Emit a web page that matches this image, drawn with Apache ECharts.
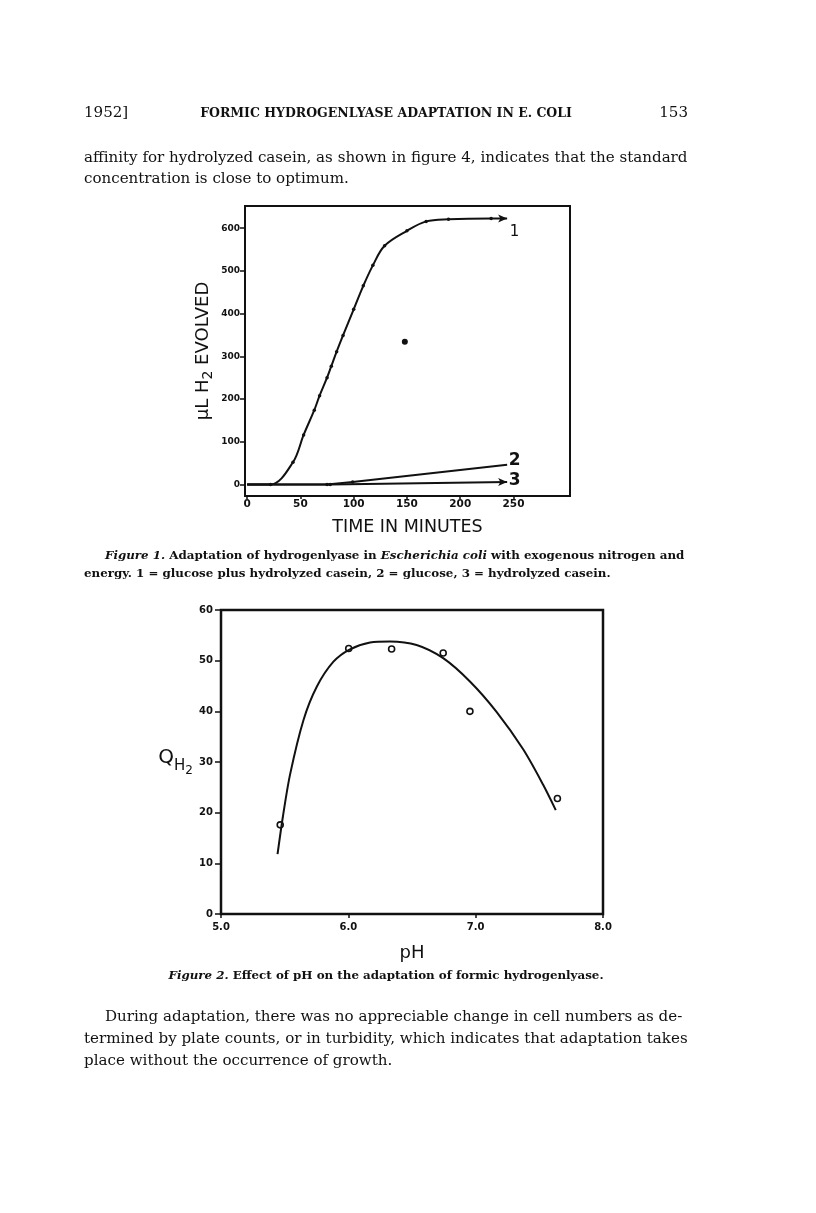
<!DOCTYPE html>
<html><head><meta charset="utf-8">
<script src="https://cdn.jsdelivr.net/npm/echarts@6/dist/echarts.min.js"></script>
<style>html,body{margin:0;padding:0;background:#fff}#c{width:816px;height:1213px}</style>
</head><body><div id="c"></div>
<script>
// ---------- Figure 1 data (time in minutes, µL H2 evolved) ----------
const fig1Curve1 = [[0,0],[22,0],[43,52],[53,116],[63,174],[68,208],[75,250],[79,277],[84,311],[90,349],[100,410],[109,465],[118,513],[129,559],[150,594],[168,616],[189,621],[229,623],[244,623]];
const fig1Curve2 = [[0,0],[75,0],[99,6],[244,46]];
const fig1Curve3 = [[0,0],[78,0],[244,6]];
const fig1Stray = [[148,334]];
const fig1CurveNames = ['1','2','3'];
const fig1CurveNamePos = [[251,591],[251,57],[251,8]];
const fig1XTicks = [0,50,100,150,200,250];
const fig1YTicks = [0,100,200,300,400,500,600];

// ---------- Figure 2 data (pH, QH2) ----------
const fig2Points = [[5.465,17.6],[6.003,52.4],[6.34,52.3],[6.745,51.5],[6.955,40.0],[7.642,22.8]];
const fig2Curve = [[5.444,11.8],[5.486,19.2],[5.543,27.6],[5.648,38.3],[5.753,44.9],[5.883,49.8],[6.009,52.2],[6.171,53.6],[6.327,53.8],[6.536,53.1],[6.745,50.5],[6.955,45.9],[7.164,39.9],[7.373,32.5],[7.53,25.5],[7.629,20.5]];
const fig2XTicks = [5,6,7,8];
const fig2YTicks = [0,10,20,30,40,50,60];

// ---------- Page text ----------
const headerLeft = '1952]';
const headerMid = 'FORMIC HYDROGENLYASE ADAPTATION IN E. COLI';
const headerRight = '153';
const para1 = ['affinity for hydrolyzed casein, as shown in figure 4, indicates that the standard', 'concentration is close to optimum.'];
const cap1Line1 = [['Figure 1.', true], [' Adaptation of hydrogenlyase in ', false], ['Escherichia coli', true], [' with exogenous nitrogen and', false]];
const cap1Line2 = [['energy. 1 = glucose plus hydrolyzed casein, 2 = glucose, 3 = hydrolyzed casein.', false]];
const cap2Line = [['Figure 2.', true], [' Effect of pH on the adaptation of formic hydrogenlyase.', false]];
const para2 = ['During adaptation, there was no appreciable change in cell numbers as de-', 'termined by plate counts, or in turbidity, which indicates that adaptation takes', 'place without the occurrence of growth.'];

const INK = '#111';
const SERIF = 'DejaVu Serif';
const SANS = 'DejaVu Sans';

const mctx = document.createElement('canvas').getContext('2d');
function measure(text, size, weight, italic, family) {
  mctx.font = (italic ? 'italic ' : '') + weight + ' ' + size + 'px "' + family + '"';
  return mctx.measureText(text).width;
}
function fitSize(segs, width, weight, family) {
  const base = 20;
  let w = 0;
  segs.forEach(s => { w += measure(s[0], base, weight, s[1], family); });
  return base * width / w;
}
const graphics = [];
function placeSegs(segs, x, y, size, weight, family, align) {
  let total = 0;
  const ws = segs.map(s => { const v = measure(s[0], size, weight, s[1], family); total += v; return v; });
  let cx = align === 'center' ? x - total / 2 : (align === 'right' ? x - total : x);
  segs.forEach((s, i) => {
    graphics.push({type: 'text', x: cx, y: y, silent: true, style: {
      text: s[0], fontSize: size, fontWeight: weight, fontStyle: s[1] ? 'italic' : 'normal',
      fontFamily: family, fill: INK, align: 'left', textAlign: 'left', verticalAlign: 'middle', textVerticalAlign: 'middle'}});
    cx += ws[i];
  });
}

// header
const bodySize = fitSize([[para1[0], false]], 604, 'normal', SERIF);
placeSegs([[headerLeft, false]], 84, 113, bodySize, 'normal', SERIF, 'left');
placeSegs([[headerRight, false]], 688, 113, bodySize, 'normal', SERIF, 'right');
const hSize = fitSize([[headerMid, false]], 372, 'bold', SERIF);
placeSegs([[headerMid, false]], 386, 114, hSize, 'bold', SERIF, 'center');
// paragraph 1
placeSegs([[para1[0], false]], 84, 158, bodySize, 'normal', SERIF, 'left');
placeSegs([[para1[1], false]], 84, 179, bodySize, 'normal', SERIF, 'left');
// caption 1
const capSize = fitSize(cap1Line1, 580, 'bold', SERIF);
placeSegs(cap1Line1, 105, 556, capSize, 'bold', SERIF, 'left');
placeSegs(cap1Line2, 84, 574, capSize, 'bold', SERIF, 'left');
// caption 2
placeSegs(cap2Line, 386, 976, capSize, 'bold', SERIF, 'center');
// paragraph 2
const body2Size = fitSize([[para2[1], false]], 604, 'normal', SERIF);
placeSegs([[para2[0], false]], 105, 1017, body2Size, 'normal', SERIF, 'left');
placeSegs([[para2[1], false]], 84, 1039, body2Size, 'normal', SERIF, 'left');
placeSegs([[para2[2], false]], 84, 1061, body2Size, 'normal', SERIF, 'left');

// ---------- Build series data ----------
function withEnds(arr, arrowEnd) {
  return arr.map((p, i) => {
    if (i === 0) return {value: p, symbol: 'none'};
    if (i === arr.length - 1 && arrowEnd) return {value: p, symbol: 'arrow', symbolSize: [6, 9], symbolRotate: -90};
    if (i === arr.length - 1) return {value: p, symbol: 'none'};
    return {value: p};
  });
}
const curveLabelData = fig1CurveNames.map((n, i) => (n === '1'
  ? {name: n, value: fig1CurveNamePos[i], label: {fontWeight: 'normal', fontSize: 15}}
  : {name: n, value: fig1CurveNamePos[i]}));

const tickLabelSmall = {color: INK, fontFamily: SANS, fontWeight: 'bold', fontSize: 9};
const tickLabelX1 = {color: INK, fontFamily: SANS, fontWeight: 'bold', fontSize: 10.5};
const tickLabel2 = {color: INK, fontFamily: SANS, fontWeight: 'bold', fontSize: 10};
const lineStyle = {color: INK, width: 2};

const option = {
  backgroundColor: '#fff',
  animation: false,
  graphic: graphics,
  grid: [
    {left: 245, top: 206, width: 325, height: 290, show: true, borderColor: INK, borderWidth: 2, backgroundColor: 'transparent'},
    {left: 221, top: 610, width: 382, height: 304, show: true, borderColor: INK, borderWidth: 2.5, backgroundColor: 'transparent'}
  ],
  xAxis: [
    {gridIndex: 0, type: 'value', min: -2, max: 303,
     name: 'TIME IN MINUTES', nameLocation: 'middle', nameGap: 22,
     nameTextStyle: {color: INK, fontFamily: SANS, fontSize: 17.5},
     axisLine: {onZero: false, lineStyle: lineStyle},
     axisTick: {show: true, length: 3, customValues: fig1XTicks, lineStyle: {color: INK, width: 1.5}},
     axisLabel: Object.assign({margin: 3, customValues: fig1XTicks}, tickLabelX1),
     splitLine: {show: false}},
    {gridIndex: 1, type: 'value', min: 5, max: 8,
     name: 'pH', nameLocation: 'middle', nameGap: 30,
     nameTextStyle: {color: INK, fontFamily: SANS, fontSize: 18},
     axisLine: {onZero: false, lineStyle: lineStyle},
     axisTick: {show: true, length: 4, customValues: fig2XTicks, lineStyle: {color: INK, width: 1.5}},
     axisLabel: Object.assign({margin: 8, customValues: fig2XTicks, formatter: v => v.toFixed(1)}, tickLabel2),
     splitLine: {show: false}}
  ],
  yAxis: [
    {gridIndex: 0, type: 'value', min: -27, max: 652,
     name: '{a|µL H}{s|2}{a| EVOLVED}', nameLocation: 'middle', nameGap: 30,
     nameTextStyle: {color: INK, fontFamily: SANS, fontSize: 18,
       rich: {a: {fontSize: 18, fontFamily: SANS, color: INK}, s: {fontSize: 14, fontFamily: SANS, color: INK, padding: [9, 0, 0, 0]}}},
     axisLine: {onZero: false, lineStyle: lineStyle},
     axisTick: {show: true, length: 5, customValues: fig1YTicks, lineStyle: {color: INK, width: 1.5}},
     axisLabel: Object.assign({margin: 5, customValues: fig1YTicks}, tickLabelSmall),
     splitLine: {show: false}},
    {gridIndex: 1, type: 'value', min: 0, max: 60,
     name: '{q|Q}{h|H}{t|2}', nameLocation: 'middle', nameGap: 28, nameRotate: 0,
     nameTextStyle: {color: INK, fontFamily: SANS, align: 'right',
       rich: {q: {fontSize: 20, fontFamily: SANS, color: INK, padding: [0, 0, 8, 0]},
              h: {fontSize: 15, fontFamily: SANS, color: INK, padding: [8, 0, 0, 0]},
              t: {fontSize: 12, fontFamily: SANS, color: INK, padding: [18, 0, 0, 0]}}},
     axisLine: {onZero: false, lineStyle: lineStyle},
     axisTick: {show: true, length: 6, customValues: fig2YTicks, lineStyle: {color: INK, width: 1.5}},
     axisLabel: Object.assign({margin: 8, customValues: fig2YTicks}, tickLabel2),
     splitLine: {show: false}}
  ],
  series: [
    {type: 'line', xAxisIndex: 0, yAxisIndex: 0, data: withEnds(fig1Curve1, true), smooth: 0.35,
     symbol: 'circle', symbolSize: 3.5, itemStyle: {color: INK, opacity: 1}, lineStyle: {color: INK, width: 2}},
    {type: 'line', xAxisIndex: 0, yAxisIndex: 0, data: withEnds(fig1Curve2, false), smooth: false,
     symbol: 'circle', symbolSize: 3.5, itemStyle: {color: INK, opacity: 1}, lineStyle: {color: INK, width: 2}},
    {type: 'line', xAxisIndex: 0, yAxisIndex: 0, data: withEnds(fig1Curve3, true), smooth: false,
     symbol: 'circle', symbolSize: 3.5, itemStyle: {color: INK, opacity: 1}, lineStyle: {color: INK, width: 2}},
    {type: 'scatter', xAxisIndex: 0, yAxisIndex: 0, data: fig1Stray, symbolSize: 6, itemStyle: {color: INK, opacity: 1}},
    {type: 'scatter', xAxisIndex: 0, yAxisIndex: 0, data: curveLabelData, symbolSize: 1, itemStyle: {color: 'rgba(0,0,0,0)', opacity: 1},
     label: {show: true, position: 'inside', formatter: p => p.name, color: INK, fontFamily: SANS, fontWeight: 'bold', fontSize: 17}},
    {type: 'line', xAxisIndex: 1, yAxisIndex: 1, data: fig2Curve, smooth: 0.3, showSymbol: false,
     lineStyle: {color: INK, width: 2}},
    {type: 'scatter', xAxisIndex: 1, yAxisIndex: 1, data: fig2Points, symbol: 'circle', symbolSize: 6,
     itemStyle: {color: '#fff', borderColor: INK, borderWidth: 1.6, opacity: 1}}
  ]
};
const chart = echarts.init(document.getElementById('c'), null, {renderer: 'canvas'});
chart.setOption(option);
</script>
</body></html>
